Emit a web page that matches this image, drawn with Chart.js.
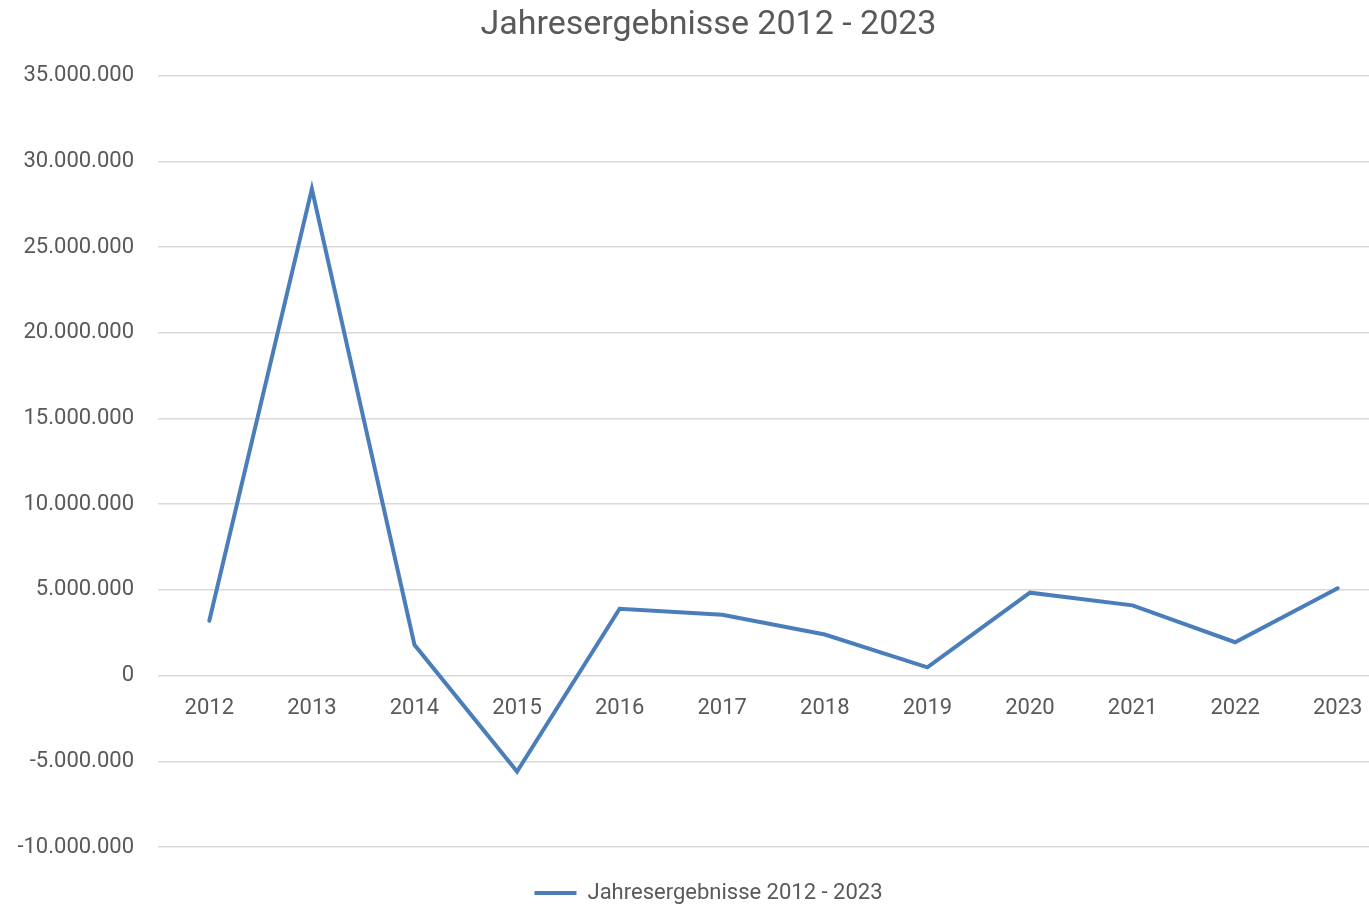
<!DOCTYPE html>
<html>
<head>
<meta charset="utf-8">
<script src="https://cdn.jsdelivr.net/npm/chart.js@4"></script>
<style>
  html, body { margin: 0; padding: 0; overflow: hidden; background: #fff; }
  #wrap { width: 1412px; height: 914px; }
</style>
</head>
<body>
<div id="wrap"><canvas id="resultChart"></canvas></div>
<script>
// Jahresergebnisse (Werte aus dem Bild geschätzt)
const years = ['2012', '2013', '2014', '2015', '2016', '2017', '2018', '2019', '2020', '2021', '2022', '2023'];
const results = [3200000, 28400000, 1800000, -5600000, 3900000, 3550000, 2400000, 480000, 4840000, 4100000, 1950000, 5100000];
const chartTitle = 'Jahresergebnisse 2012 - 2023';

const FONT = "'Liberation Sans Narrow', 'Roboto', sans-serif";
const GREY = '#595959';

function formatDe(v) {
    return v.toLocaleString('de-DE');
}

// title and legend are centred a bit further right than the full canvas
const centerShift = {
    id: 'centerShift',
    afterLayout(chart) {
        if (chart.titleBlock) chart.titleBlock.left += 28;
        if (chart.legend) chart.legend.left += 28;
    }
};

function initializeResultChart() {
    const ctx = document.getElementById('resultChart').getContext('2d');
    return new Chart(ctx, {
        type: 'line',
        data: {
            labels: years,
            datasets: [{
                label: chartTitle,
                data: results,
                borderColor: '#4a7ebb',
                backgroundColor: '#4a7ebb',
                borderWidth: 4,
                borderCapStyle: 'round',
                borderJoinStyle: 'miter',
                pointRadius: 0,
                pointHoverRadius: 0,
                pointStyle: 'line',
                tension: 0,
                fill: false,
            }]
        },
        options: {
            responsive: true,
            maintainAspectRatio: false,
            animation: false,
            layout: { padding: { left: 0, right: 23, top: 0, bottom: 0 } },
            plugins: {
                title: {
                    display: true,
                    text: chartTitle,
                    color: GREY,
                    font: { family: FONT, size: 34, weight: 'normal' },
                    padding: { top: 5, bottom: 30 }
                },
                legend: {
                    position: 'bottom',
                    // empty legend title used as a spacer above the legend
                    title: {
                        display: true,
                        text: ' ',
                        font: { size: 10 },
                        padding: { top: 23, bottom: 0 }
                    },
                    labels: {
                        color: GREY,
                        font: { family: FONT, size: 22 },
                        usePointStyle: true,
                        pointStyleWidth: 42,
                        boxHeight: 4,
                        padding: 0
                    }
                },
                tooltip: { enabled: false }
            },
            scales: {
                x: {
                    position: { y: 0 },
                    offset: true,
                    grid: { display: false },
                    border: { display: false },
                    ticks: {
                        color: GREY,
                        font: { family: FONT, size: 22 },
                        padding: 12,
                        maxRotation: 0
                    }
                },
                y: {
                    min: -10000000,
                    max: 35000000,
                    grid: { color: '#d9d9d9', lineWidth: 1.5, drawTicks: false },
                    border: { display: false },
                    ticks: {
                        stepSize: 5000000,
                        color: GREY,
                        font: { family: FONT, size: 22 },
                        padding: 24,
                        callback: v => formatDe(v)
                    },
                    afterFit: scale => { scale.width = 158; }
                }
            }
        },
        plugins: [centerShift]
    });
}

document.addEventListener('DOMContentLoaded', () => {
    initializeResultChart();
});
</script>
</body>
</html>
